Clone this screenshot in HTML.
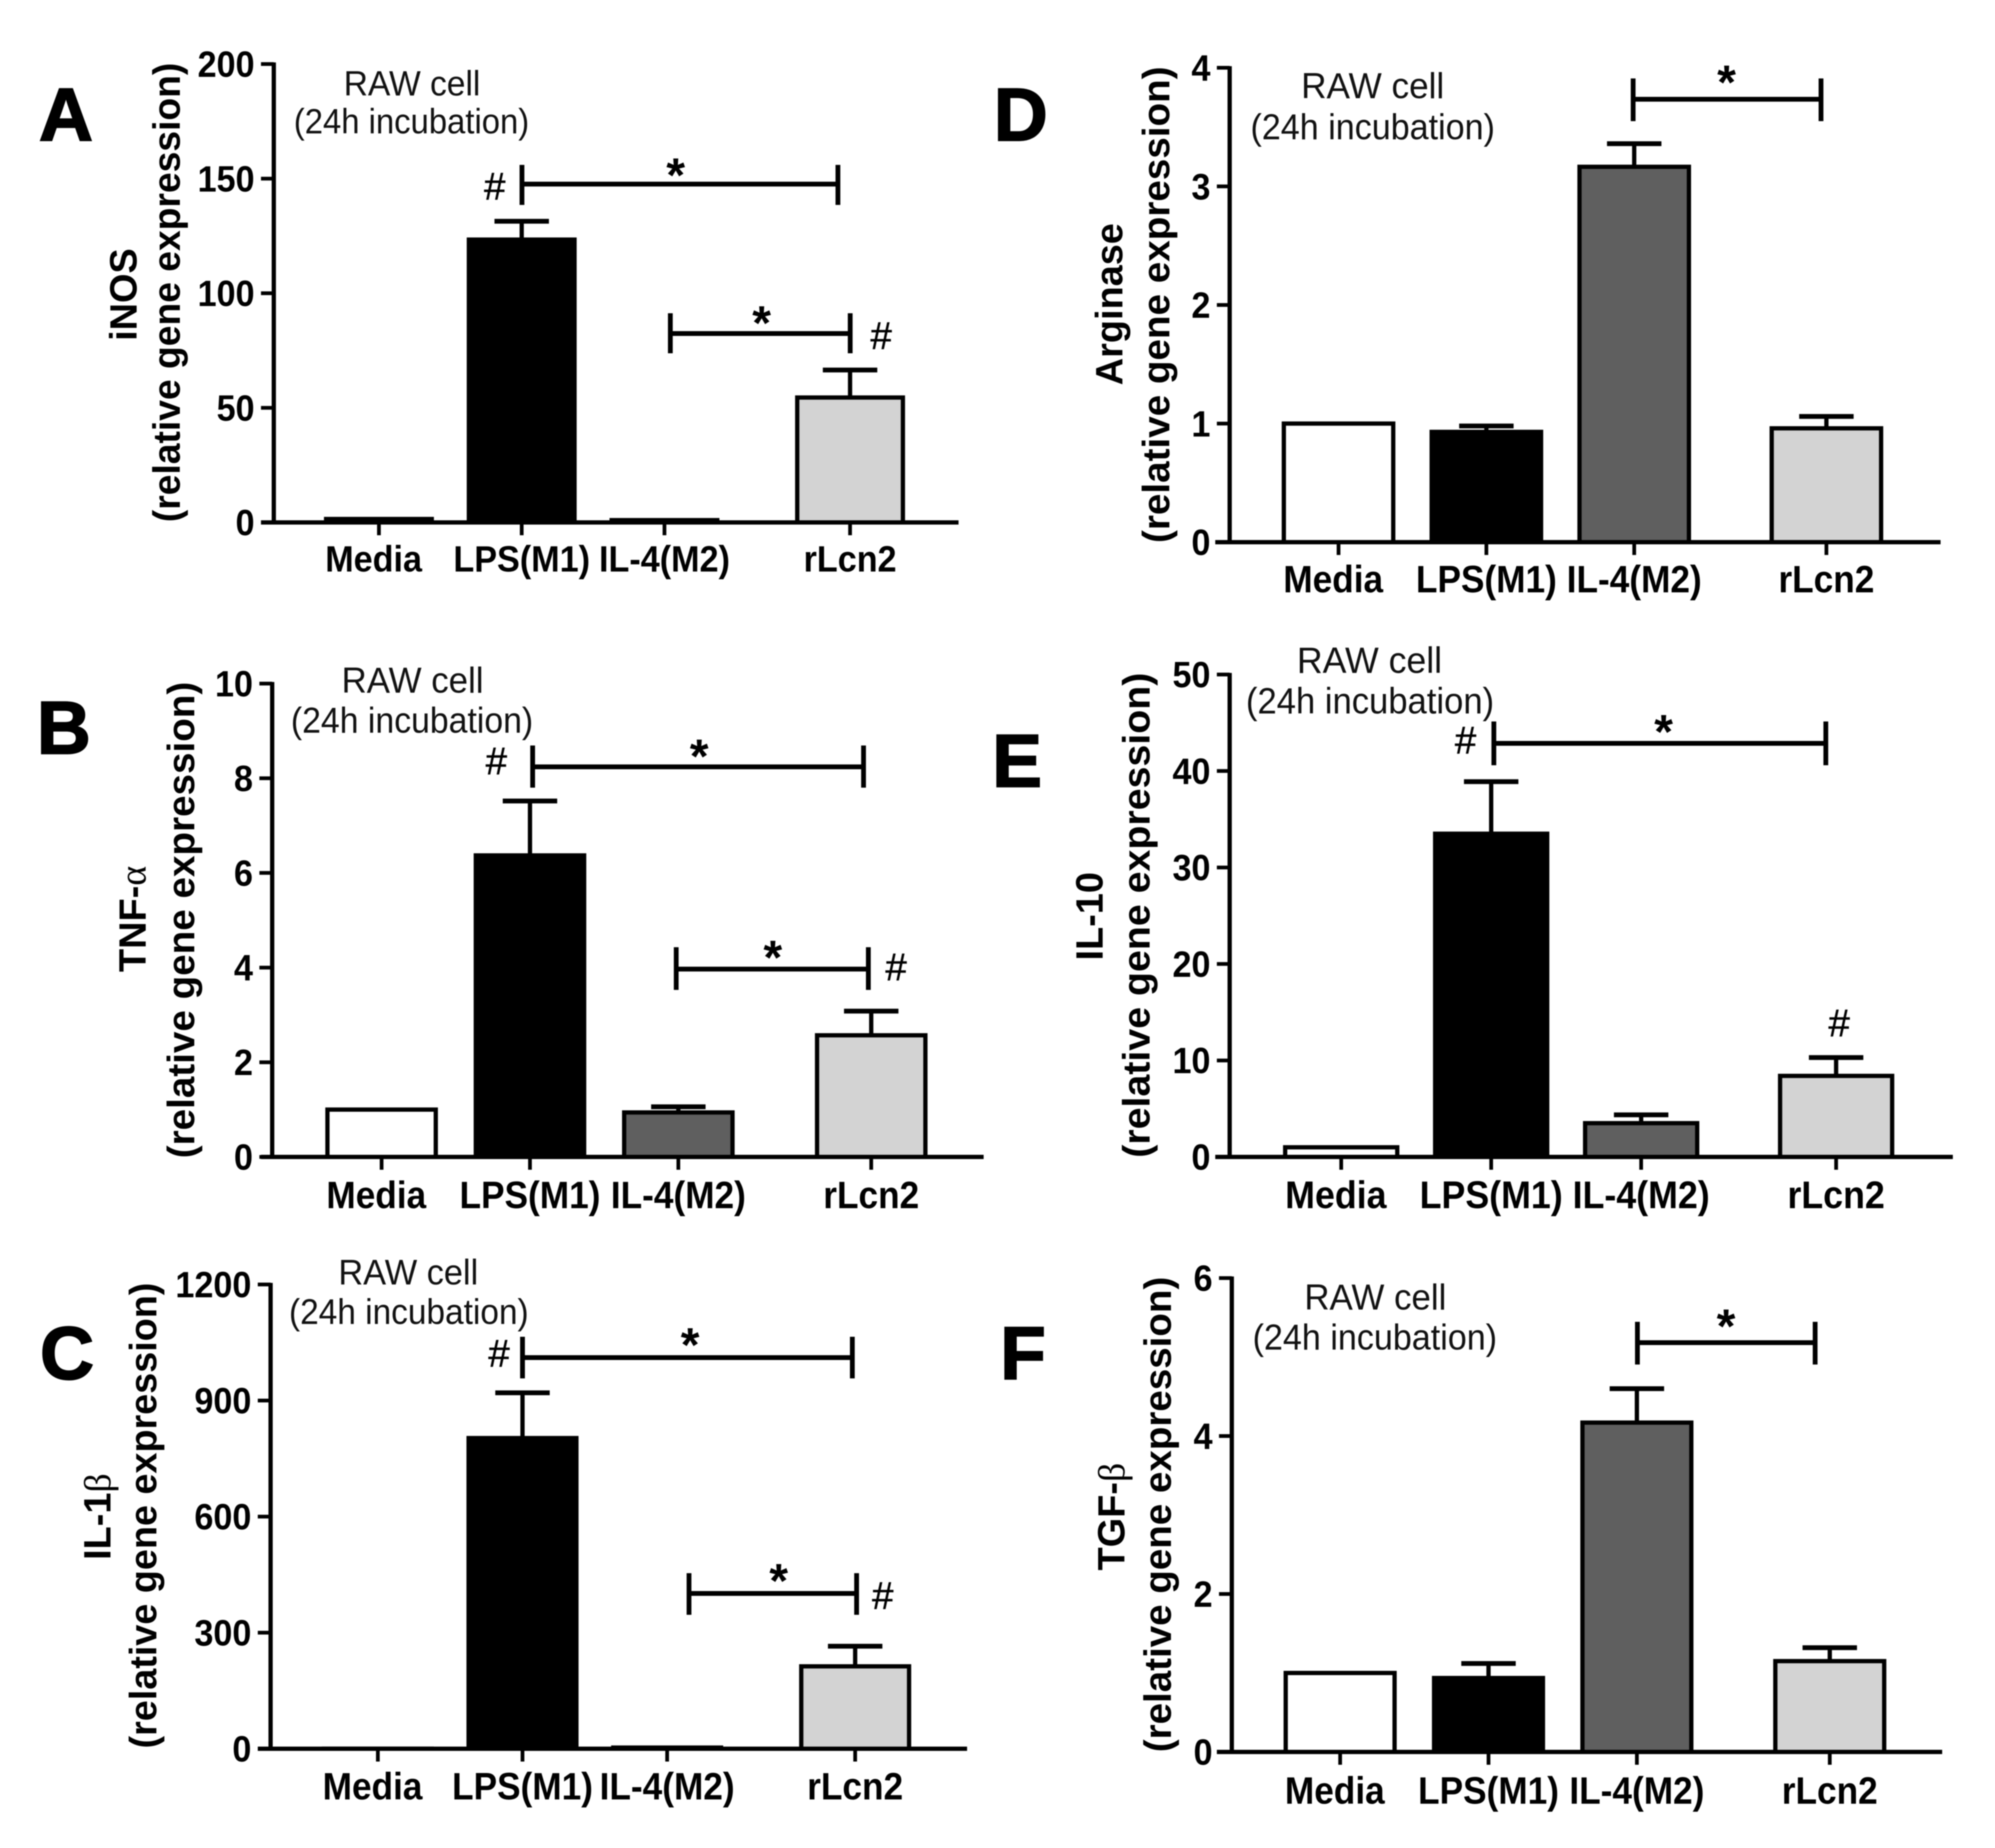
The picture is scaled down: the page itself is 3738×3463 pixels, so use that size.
<!DOCTYPE html>
<html lang="en">
<head>
<meta charset="utf-8">
<title>Macrophage gene expression panels</title>
<style>
  html, body { margin: 0; padding: 0; background: #fff; }
  svg { display: block; filter: blur(1px); }
  text { font-family: "Liberation Sans", sans-serif; fill: #000; }
  .letter { font-size: 140px; font-weight: 700; stroke: #000; stroke-width: 3px; }
  .gene, .ytitle { font-size: 71px; font-weight: 700; text-anchor: middle; }
  .raw { font-weight: 400; text-anchor: middle; fill: #111; }
  .star { font-size: 90px; font-weight: 700; text-anchor: middle; }
  .hash { font-size: 72px; font-weight: 400; text-anchor: middle; stroke: #000; stroke-width: 0.8px; }
  .greek { font-family: "Liberation Serif", serif; font-weight: 400; }
  .br { stroke: #000; fill: none; }
  .br line.h { stroke-width: 9; }
  .br line.v { stroke-width: 9; }
</style>
</head>
<body>
<svg id="figure" xmlns="http://www.w3.org/2000/svg" width="3738" height="3463" viewBox="0 0 3738 3463">
  <rect x="0" y="0" width="3738" height="3463" fill="#fff"/>

  <!-- Panel A -->
  <g id="panel-a">
    <text class="letter" x="73" y="263">A</text>
    <text class="gene" transform="translate(256,552) rotate(-90)">iNOS</text>
    <text class="ytitle" transform="translate(337,548) rotate(-90)" textLength="861" lengthAdjust="spacingAndGlyphs">(relative gene expression)</text>
    <text class="raw" x="772" y="179" font-size="66" textLength="256" lengthAdjust="spacingAndGlyphs">RAW cell</text>
    <text class="raw" x="771" y="250" font-size="66" textLength="441" lengthAdjust="spacingAndGlyphs">(24h incubation)</text>
    <g class="br">
      <line class="h" x1="978" x2="1570" y1="345" y2="345"/><line class="v" x1="978" x2="978" y1="309" y2="384"/><line class="v" x1="1570" x2="1570" y1="309" y2="384"/>
    </g>
    <g class="br">
      <line class="h" x1="1256" x2="1593" y1="625" y2="625"/><line class="v" x1="1256" x2="1256" y1="587" y2="662"/><line class="v" x1="1593" x2="1593" y1="587" y2="662"/>
    </g>
    <text class="star" x="1266" y="359">*</text>
    <text class="star" x="1427" y="636">*</text>
    <text class="hash" x="927" y="374">#</text>
    <text class="hash" x="1651" y="654">#</text>
  </g>

  <!-- Panel B -->
  <g id="panel-b">
    <text class="letter" x="69" y="1412">B</text>
    <text class="gene" transform="translate(273,1722) rotate(-90)">TNF-<tspan class="greek">α</tspan></text>
    <text class="ytitle" transform="translate(364,1724) rotate(-90)" textLength="893" lengthAdjust="spacingAndGlyphs">(relative gene expression)</text>
    <text class="raw" x="773" y="1298" font-size="68" textLength="266" lengthAdjust="spacingAndGlyphs">RAW cell</text>
    <text class="raw" x="772" y="1373" font-size="68" textLength="454" lengthAdjust="spacingAndGlyphs">(24h incubation)</text>
    <g class="br">
      <line class="h" x1="998" x2="1618" y1="1437" y2="1437"/><line class="v" x1="998" x2="998" y1="1397" y2="1476"/><line class="v" x1="1618" x2="1618" y1="1397" y2="1476"/>
    </g>
    <g class="br">
      <line class="h" x1="1267" x2="1627" y1="1816" y2="1816"/><line class="v" x1="1267" x2="1267" y1="1775" y2="1855"/><line class="v" x1="1627" x2="1627" y1="1775" y2="1855"/>
    </g>
    <text class="star" x="1310" y="1448">*</text>
    <text class="star" x="1448" y="1825">*</text>
    <text class="hash" x="930" y="1451">#</text>
    <text class="hash" x="1679" y="1837">#</text>
  </g>

  <!-- Panel C -->
  <g id="panel-c">
    <text class="letter" x="75" y="2584">C</text>
    <text class="gene" transform="translate(207,2842) rotate(-90)">IL-1<tspan class="greek">β</tspan></text>
    <text class="ytitle" transform="translate(293,2840) rotate(-90)" textLength="873" lengthAdjust="spacingAndGlyphs">(relative gene expression)</text>
    <text class="raw" x="765" y="2407" font-size="67" textLength="262" lengthAdjust="spacingAndGlyphs">RAW cell</text>
    <text class="raw" x="766" y="2481" font-size="67" textLength="449" lengthAdjust="spacingAndGlyphs">(24h incubation)</text>
    <g class="br">
      <line class="h" x1="979" x2="1597" y1="2544" y2="2544"/><line class="v" x1="979" x2="979" y1="2505" y2="2583"/><line class="v" x1="1597" x2="1597" y1="2505" y2="2583"/>
    </g>
    <g class="br">
      <line class="h" x1="1291" x2="1605" y1="2986" y2="2986"/><line class="v" x1="1291" x2="1291" y1="2948" y2="3026"/><line class="v" x1="1605" x2="1605" y1="2948" y2="3026"/>
    </g>
    <text class="star" x="1293" y="2551">*</text>
    <text class="star" x="1459" y="2993">*</text>
    <text class="hash" x="935" y="2561">#</text>
    <text class="hash" x="1654" y="3015">#</text>
  </g>

  <!-- Panel D -->
  <g id="panel-d">
    <text class="letter" x="1862" y="263">D</text>
    <text class="gene" transform="translate(2103,570) rotate(-90)">Arginase</text>
    <text class="ytitle" transform="translate(2191,571) rotate(-90)" textLength="893" lengthAdjust="spacingAndGlyphs">(relative gene expression)</text>
    <text class="raw" x="2572" y="184" font-size="68" textLength="268" lengthAdjust="spacingAndGlyphs">RAW cell</text>
    <text class="raw" x="2572" y="261" font-size="68" textLength="458" lengthAdjust="spacingAndGlyphs">(24h incubation)</text>
    <g class="br">
      <line class="h" x1="3060" x2="3412" y1="186" y2="186"/><line class="v" x1="3060" x2="3060" y1="147" y2="227"/><line class="v" x1="3412" x2="3412" y1="147" y2="227"/>
    </g>
    <text class="star" x="3235" y="185">*</text>
  </g>

  <!-- Panel E -->
  <g id="panel-e">
    <text class="letter" x="1859" y="1474">E</text>
    <text class="gene" transform="translate(2066,1717) rotate(-90)">IL-10</text>
    <text class="ytitle" transform="translate(2154,1715) rotate(-90)" textLength="909" lengthAdjust="spacingAndGlyphs">(relative gene expression)</text>
    <text class="raw" x="2566" y="1261" font-size="69" textLength="272" lengthAdjust="spacingAndGlyphs">RAW cell</text>
    <text class="raw" x="2567" y="1337" font-size="69" textLength="465" lengthAdjust="spacingAndGlyphs">(24h incubation)</text>
    <g class="br">
      <line class="h" x1="2799" x2="3421" y1="1393" y2="1393"/><line class="v" x1="2799" x2="2799" y1="1352" y2="1434"/><line class="v" x1="3421" x2="3421" y1="1352" y2="1434"/>
    </g>
    <text class="star" x="3117" y="1402">*</text>
    <text class="hash" x="2746" y="1412">#</text>
    <text class="hash" x="3446" y="1942">#</text>
  </g>

  <!-- Panel F -->
  <g id="panel-f">
    <text class="letter" x="1874" y="2584">F</text>
    <text class="gene" transform="translate(2107,2842) rotate(-90)">TGF-<tspan class="greek">β</tspan></text>
    <text class="ytitle" transform="translate(2194,2838) rotate(-90)" textLength="891" lengthAdjust="spacingAndGlyphs">(relative gene expression)</text>
    <text class="raw" x="2577" y="2454" font-size="68" textLength="266" lengthAdjust="spacingAndGlyphs">RAW cell</text>
    <text class="raw" x="2576" y="2529" font-size="68" textLength="458" lengthAdjust="spacingAndGlyphs">(24h incubation)</text>
    <g class="br">
      <line class="h" x1="3068" x2="3401" y1="2516" y2="2516"/><line class="v" x1="3068" x2="3068" y1="2477" y2="2557"/><line class="v" x1="3401" x2="3401" y1="2477" y2="2557"/>
    </g>
    <text class="star" x="3234" y="2516">*</text>
  </g>
</svg>

<script>
// Shared categories and their ordinal slot along each x axis
const categories = ['Media', 'LPS(M1)', 'IL-4(M2)', 'rLcn2'];
const categorySlots = [0, 1, 2, 3.3];

// Panel A: iNOS
const inosValues = [1.5, 123.4, 1, 54.5];
const inosErrors = [0, 8, 0, 12];
const inosTicks = [0, 50, 100, 150, 200];

// Panel B: TNF-alpha
const tnfValues = [1, 6.37, 0.94, 2.57];
const tnfErrors = [0, 1.15, 0.12, 0.51];
const tnfTicks = [0, 2, 4, 6, 8, 10];

// Panel C: IL-1 beta
const il1Values = [0.2, 803, 3, 213];
const il1Errors = [0, 117, 0, 52];
const il1Ticks = [0, 300, 600, 900, 1200];

// Panel D: Arginase
const arginaseValues = [1, 0.93, 3.165, 0.96];
const arginaseErrors = [0, 0.05, 0.195, 0.1];
const arginaseTicks = [0, 1, 2, 3, 4];

// Panel E: IL-10
const il10Values = [1, 33.5, 3.5, 8.4];
const il10Errors = [0, 5.4, 0.86, 1.9];
const il10Ticks = [0, 10, 20, 30, 40, 50];

// Panel F: TGF-beta
const tgfValues = [1, 0.936, 4.17, 1.15];
const tgfErrors = [0, 0.184, 0.43, 0.17];
const tgfTicks = [0, 2, 4, 6];

const SVG_NS = 'http://www.w3.org/2000/svg';
const BAR_FILLS = ['#ffffff', '#000000', '#5f5f5f', '#d3d3d3'];

function line(parent, x1, y1, x2, y2, width) {
  const el = document.createElementNS(SVG_NS, 'line');
  el.setAttribute('x1', x1);
  el.setAttribute('y1', y1);
  el.setAttribute('x2', x2);
  el.setAttribute('y2', y2);
  el.setAttribute('stroke', '#000');
  el.setAttribute('stroke-width', width);
  parent.appendChild(el);
  return el;
}

// Text is laid out at its natural width, then drawn taller to match the stretched reference.
function label(parent, x, y, str, size, anchor) {
  const el = document.createElementNS(SVG_NS, 'text');
  el.setAttribute('x', x);
  el.setAttribute('y', y);
  el.setAttribute('font-size', size);
  el.setAttribute('font-weight', '700');
  el.setAttribute('text-anchor', anchor);
  el.textContent = str;
  parent.appendChild(el);
  const natural = el.getComputedTextLength();
  el.setAttribute('font-size', size + 5);
  el.setAttribute('textLength', natural);
  el.setAttribute('lengthAdjust', 'spacingAndGlyphs');
  return el;
}

function drawPanel(id, frame, values, errors, ticks) {
  const root = document.getElementById(id);
  const yMax = ticks[ticks.length - 1];
  const yScale = function (v) { return frame.zero - (v / yMax) * (frame.zero - frame.top); };
  const xScale = function (slot) { return frame.first + slot * frame.step; };

  const marks = document.createElementNS(SVG_NS, 'g');
  
  
  root.appendChild(marks);

  categories.forEach(function (name, i) {
    const cx = xScale(categorySlots[i]);
    const yv = yScale(values[i]);
    if (errors[i] > 0) {
      const ye = yScale(values[i] + errors[i]);
      const err = document.createElementNS(SVG_NS, 'g');
      
      
      line(err, cx, yv, cx, ye, 8);
      line(err, cx - 51, ye, cx + 51, ye, 9);
      marks.appendChild(err);
    }
    const bar = document.createElementNS(SVG_NS, 'rect');
    
    
    bar.setAttribute('x', cx - frame.barWidth / 2 + 4);
    bar.setAttribute('y', yv);
    bar.setAttribute('width', frame.barWidth - 8);
    bar.setAttribute('height', Math.max(0, frame.zero - yv));
    bar.setAttribute('fill', BAR_FILLS[i]);
    bar.setAttribute('stroke', '#000');
    bar.setAttribute('stroke-width', 8);
    marks.appendChild(bar);
  });

  const yAxis = document.createElementNS(SVG_NS, 'g');
  
  
  root.appendChild(yAxis);
  line(yAxis, frame.axisX, frame.top - 3, frame.axisX, frame.zero + 3, 8);
  ticks.forEach(function (t) {
    const y = yScale(t);
    line(yAxis, frame.axisX - 24, y, frame.axisX, y, 7);
    const tick = label(yAxis, frame.axisX - 36, y + 24, String(t), 64, 'end');
    
    
  });

  const xAxis = document.createElementNS(SVG_NS, 'g');
  
  
  root.appendChild(xAxis);
  line(xAxis, frame.axisStart, frame.zero, frame.axisEnd, frame.zero, 8);
  categories.forEach(function (name, i) {
    const cx = xScale(categorySlots[i]);
    line(xAxis, cx, frame.zero, cx, frame.zero + 24, 7);
    const shift = i === 0 ? -10 : 0;
    const cat = label(xAxis, cx + shift, frame.labelY, name, frame.labelSize, 'middle');
    
    
  });
}

drawPanel('panel-a', { axisX: 513, top: 120, zero: 979, axisStart: 489, axisEnd: 1796, first: 710, step: 267.5, barWidth: 206, labelY: 1071, labelSize: 64 }, inosValues, inosErrors, inosTicks);
drawPanel('panel-b', { axisX: 510, top: 1281, zero: 2168, axisStart: 489, axisEnd: 1843, first: 715, step: 278, barWidth: 211, labelY: 2264, labelSize: 66 }, tnfValues, tnfErrors, tnfTicks);
drawPanel('panel-c', { axisX: 507, top: 2407, zero: 3277, axisStart: 483, axisEnd: 1812, first: 708, step: 271, barWidth: 210, labelY: 3372, labelSize: 66 }, il1Values, il1Errors, il1Ticks);
drawPanel('panel-d', { axisX: 2304, top: 127, zero: 1016, axisStart: 2277, axisEnd: 3636, first: 2508, step: 277, barWidth: 213, labelY: 1110, labelSize: 66 }, arginaseValues, arginaseErrors, arginaseTicks);
drawPanel('panel-e', { axisX: 2304, top: 1264, zero: 2168, axisStart: 2277, axisEnd: 3659, first: 2513, step: 281, barWidth: 218, labelY: 2264, labelSize: 67 }, il10Values, il10Errors, il10Ticks);
drawPanel('panel-f', { axisX: 2308, top: 2395, zero: 3283, axisStart: 2280, axisEnd: 3639, first: 2511, step: 278, barWidth: 212, labelY: 3380, labelSize: 66 }, tgfValues, tgfErrors, tgfTicks);
</script>
</body>
</html>
